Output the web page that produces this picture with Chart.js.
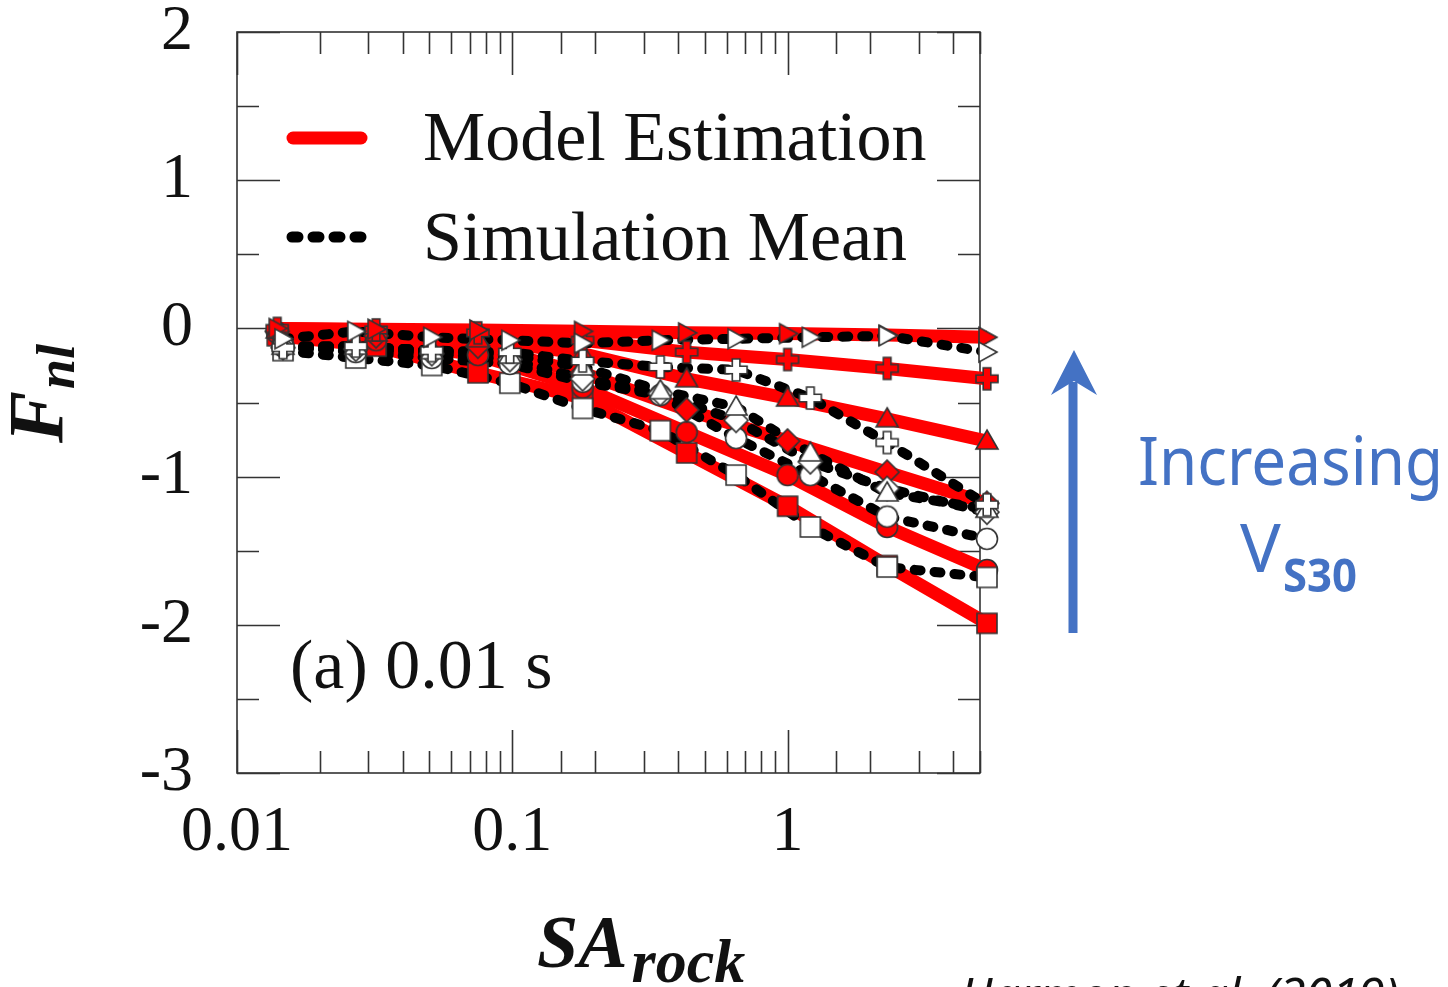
<!DOCTYPE html>
<html>
<head>
<meta charset="utf-8">
<script src="https://cdn.jsdelivr.net/npm/chart.js@4.4.1/dist/chart.umd.min.js"></script>
<style>
	html, body { margin: 0; padding: 0; background: #fff; }
	#wrap { width: 1448px; height: 987px; position: relative; overflow: hidden; }
</style>
</head>
<body>
<div id="wrap"><canvas id="graph" width="1448" height="987"></canvas></div>
<script>
"use strict";

// SA_rock (g) where each curve has a symbol
const modelSA = [0.014, 0.032, 0.075, 0.18, 0.43, 1.0, 2.3, 5.3];
const simSA = [0.0147, 0.027, 0.051, 0.098, 0.18, 0.345, 0.65, 1.21, 2.3, 5.3];

// one entry per Vs30 group, stiffest site first
const groupShapes = ["triRight", "plus", "triangle", "diamond", "circle", "square"];

const modelFnl = [
	[0, -0.005, -0.01, -0.02, -0.03, -0.035, -0.045, -0.06],
	[0, -0.01, -0.03, -0.08, -0.16, -0.21, -0.27, -0.34],
	[-0.01, -0.03, -0.07, -0.17, -0.34, -0.47, -0.61, -0.76],
	[-0.02, -0.05, -0.12, -0.3, -0.55, -0.76, -0.97, -1.18],
	[-0.03, -0.08, -0.18, -0.4, -0.7, -0.99, -1.34, -1.63],
	[-0.05, -0.12, -0.3, -0.47, -0.84, -1.2, -1.6, -1.99],
];

const simFnl = [
	[-0.07, -0.02, -0.06, -0.08, -0.1, -0.08, -0.07, -0.06, -0.05, -0.16],
	[-0.13, -0.12, -0.15, -0.16, -0.22, -0.26, -0.28, -0.47, -0.77, -1.19],
	[-0.12, -0.12, -0.15, -0.18, -0.26, -0.42, -0.53, -0.84, -1.11, -1.22],
	[-0.13, -0.14, -0.17, -0.21, -0.34, -0.44, -0.62, -0.9, -1.08, -1.24],
	[-0.12, -0.16, -0.2, -0.24, -0.36, -0.45, -0.74, -0.99, -1.27, -1.42],
	[-0.15, -0.2, -0.25, -0.37, -0.54, -0.69, -0.99, -1.34, -1.61, -1.68],
];

const xTickLabels = [0.01, 0.1, 1];
const legendLabels = ["Model Estimation", "Simulation Mean"];
const panelLabel = "(a) 0.01 s";
const yTitle = ["F", "nl"];
const xTitle = ["SA", "rock"];
const arrowText = ["Increasing", "V", "S30"];
const citation = "Harmon et al. (2019)";

const serif = '"Liberation Serif", "Times New Roman", serif';
const sans = '"Noto Sans", "Open Sans", sans-serif';
const red = "#ff0000";
const blue = "#4472c4";

function makeMarker(shape, fill) {
	const c = document.createElement("canvas");
	c.width = 30;
	c.height = 30;
	const g = c.getContext("2d");
	g.translate(15, 15);
	g.beginPath();
	switch (shape) {
		case "triRight":
			g.moveTo(10, 0);
			g.lineTo(-8, -10);
			g.lineTo(-8, 10);
			g.closePath();
			break;
		case "triangle":
			g.moveTo(0, -11);
			g.lineTo(11, 8);
			g.lineTo(-11, 8);
			g.closePath();
			break;
		case "diamond":
			g.moveTo(0, -12);
			g.lineTo(12, 0);
			g.lineTo(0, 12);
			g.lineTo(-12, 0);
			g.closePath();
			break;
		case "circle":
			g.arc(0, 0, 10.5, 0, Math.PI * 2);
			break;
		case "square":
			g.rect(-10, -10, 20, 20);
			break;
		case "plus": {
			const a = 11,
				b = 3.8;
			g.moveTo(-b, -a);
			g.lineTo(b, -a);
			g.lineTo(b, -b);
			g.lineTo(a, -b);
			g.lineTo(a, b);
			g.lineTo(b, b);
			g.lineTo(b, a);
			g.lineTo(-b, a);
			g.lineTo(-b, b);
			g.lineTo(-a, b);
			g.lineTo(-a, -b);
			g.lineTo(-b, -b);
			g.closePath();
			break;
		}
	}
	g.fillStyle = fill;
	g.fill();
	g.lineWidth = 1.6;
	g.strokeStyle = "#333";
	g.stroke();
	return c;
}

const toPoints = (xs, ys) => xs.map((x, i) => ({ x, y: ys[i] }));

const datasets = [];
groupShapes.forEach((shape, i) => {
	const model = toPoints(modelSA, modelFnl[i]);
	const sim = toPoints(simSA, simFnl[i]);
	datasets.push({
		label: "model " + shape,
		data: model,
		showLine: true,
		borderColor: red,
		borderWidth: 13,
		pointRadius: 0,
		order: 40,
		clip: false,
	});
	datasets.push({
		label: "sim " + shape,
		data: sim,
		showLine: true,
		borderColor: "#000",
		borderWidth: 10,
		borderDash: [6, 14],
		borderCapStyle: "round",
		pointRadius: 0,
		order: 30,
		clip: false,
	});
	datasets.push({
		label: "model pts " + shape,
		data: model,
		pointStyle: makeMarker(shape, red),
		pointRadius: 12,
		hoverRadius: 12,
		order: 20,
		clip: false,
	});
	datasets.push({
		label: "sim pts " + shape,
		data: sim,
		pointStyle: makeMarker(shape, "#fff"),
		pointRadius: 12,
		hoverRadius: 12,
		order: 10,
		clip: false,
	});
});

// box with inward ticks on all four sides
const framePlugin = {
	id: "frame",
	beforeDatasetsDraw(chart) {
		const { ctx, chartArea: a } = chart;
		const { x, y } = chart.scales;
		ctx.save();
		ctx.strokeStyle = "#333";
		ctx.lineWidth = 1.6;
		ctx.strokeRect(a.left, a.top, a.right - a.left, a.bottom - a.top);
		ctx.beginPath();
		for (let v = y.min; v <= y.max + 1e-9; v += 0.5) {
			const py = Math.round(y.getPixelForValue(v)) + 0.5;
			const len = Number.isInteger(v) ? 43 : 22;
			ctx.moveTo(a.left, py);
			ctx.lineTo(a.left + len, py);
			ctx.moveTo(a.right, py);
			ctx.lineTo(a.right - len, py);
		}
		x.ticks.forEach((t) => {
			const lg = Math.log10(t.value);
			const len = Math.abs(lg - Math.round(lg)) < 1e-6 ? 43 : 22;
			const px = Math.round(x.getPixelForValue(t.value)) + 0.5;
			ctx.moveTo(px, a.bottom);
			ctx.lineTo(px, a.bottom - len);
			ctx.moveTo(px, a.top);
			ctx.lineTo(px, a.top + len);
		});
		ctx.stroke();
		ctx.restore();
	},
};

const notesPlugin = {
	id: "notes",
	afterDraw(chart) {
		const ctx = chart.ctx;
		ctx.save();
		// legend
		ctx.lineCap = "round";
		ctx.strokeStyle = red;
		ctx.lineWidth = 13;
		ctx.beginPath();
		ctx.moveTo(293, 138);
		ctx.lineTo(361, 138);
		ctx.stroke();
		ctx.strokeStyle = "#000";
		ctx.lineWidth = 11;
		ctx.setLineDash([6, 15]);
		ctx.beginPath();
		ctx.moveTo(292, 237);
		ctx.lineTo(367, 237);
		ctx.stroke();
		ctx.setLineDash([]);

		ctx.fillStyle = "#111";
		ctx.textBaseline = "alphabetic";
		ctx.textAlign = "left";
		ctx.font = "70px " + serif;
		ctx.fillText(legendLabels[0], 423, 160);
		ctx.fillText(legendLabels[1], 423, 260);
		ctx.fillText(panelLabel, 290, 688);

		// y title, rotated
		ctx.save();
		ctx.translate(62, 443);
		ctx.rotate(-Math.PI / 2);
		ctx.font = "italic bold 78px " + serif;
		ctx.fillText(yTitle[0], 0, 0);
		const fw = ctx.measureText(yTitle[0]).width;
		ctx.font = "italic bold 54px " + serif;
		ctx.fillText(yTitle[1], fw + 2, 12);
		ctx.restore();

		// x title
		ctx.font = "italic bold 74px " + serif;
		ctx.fillText(xTitle[0], 537, 967);
		const sw = ctx.measureText(xTitle[0]).width;
		ctx.font = "italic bold 62px " + serif;
		ctx.fillText(xTitle[1], 537 + sw + 4, 982);

		// arrow
		ctx.strokeStyle = blue;
		ctx.fillStyle = blue;
		ctx.lineWidth = 9;
		ctx.lineCap = "butt";
		ctx.beginPath();
		ctx.moveTo(1073, 633);
		ctx.lineTo(1073, 382);
		ctx.stroke();
		ctx.beginPath();
		ctx.moveTo(1074, 350);
		ctx.lineTo(1097, 395);
		ctx.lineTo(1074, 381);
		ctx.lineTo(1051, 395);
		ctx.closePath();
		ctx.fill();

		ctx.font = "68px " + sans;
		ctx.fillText(arrowText[0], 1138, 485, 305);
		ctx.fillText(arrowText[1], 1240, 572, 42);
		ctx.font = "bold 46px " + sans;
		ctx.fillText(arrowText[2], 1283, 592, 74);

		// citation, cut at the bottom edge
		ctx.fillStyle = "#111";
		ctx.font = "italic 48px " + sans;
		ctx.fillText(citation, 960, 1012, 440);
		ctx.restore();
	},
};

const chart = new Chart(document.querySelector("#graph").getContext("2d"), {
	type: "scatter",
	data: { datasets },
	options: {
		responsive: false,
		animation: false,
		events: [],
		layout: { padding: { left: 137, right: 468, top: 32, bottom: 114 } },
		plugins: {
			legend: { display: false },
			tooltip: { enabled: false },
		},
		scales: {
			x: {
				type: "logarithmic",
				min: 0.01,
				max: 5,
				grid: { display: false, drawTicks: false },
				border: { display: false },
				ticks: {
					autoSkip: false,
					maxRotation: 0,
					padding: 22,
					color: "#111",
					font: { family: serif, size: 64 },
					callback(v) {
						const hit = xTickLabels.find((t) => Math.abs(Math.log10(v) - Math.log10(t)) < 1e-6);
						return hit === undefined ? "" : String(hit);
					},
				},
				afterFit(s) {
					s.height = 100;
					s.paddingLeft = 0;
					s.paddingRight = 0;
				},
			},
			y: {
				min: -3,
				max: 2,
				grid: { display: false, drawTicks: false },
				border: { display: false },
				ticks: {
					stepSize: 1,
					padding: 44,
					color: "#111",
					font: { family: serif, size: 64 },
					callback: (v) => String(v),
				},
				afterFit(s) {
					s.width = 100;
					s.paddingTop = 0;
					s.paddingBottom = 0;
				},
			},
		},
	},
	plugins: [framePlugin, notesPlugin],
});
window.chart = chart;
</script>
</body>
</html>
